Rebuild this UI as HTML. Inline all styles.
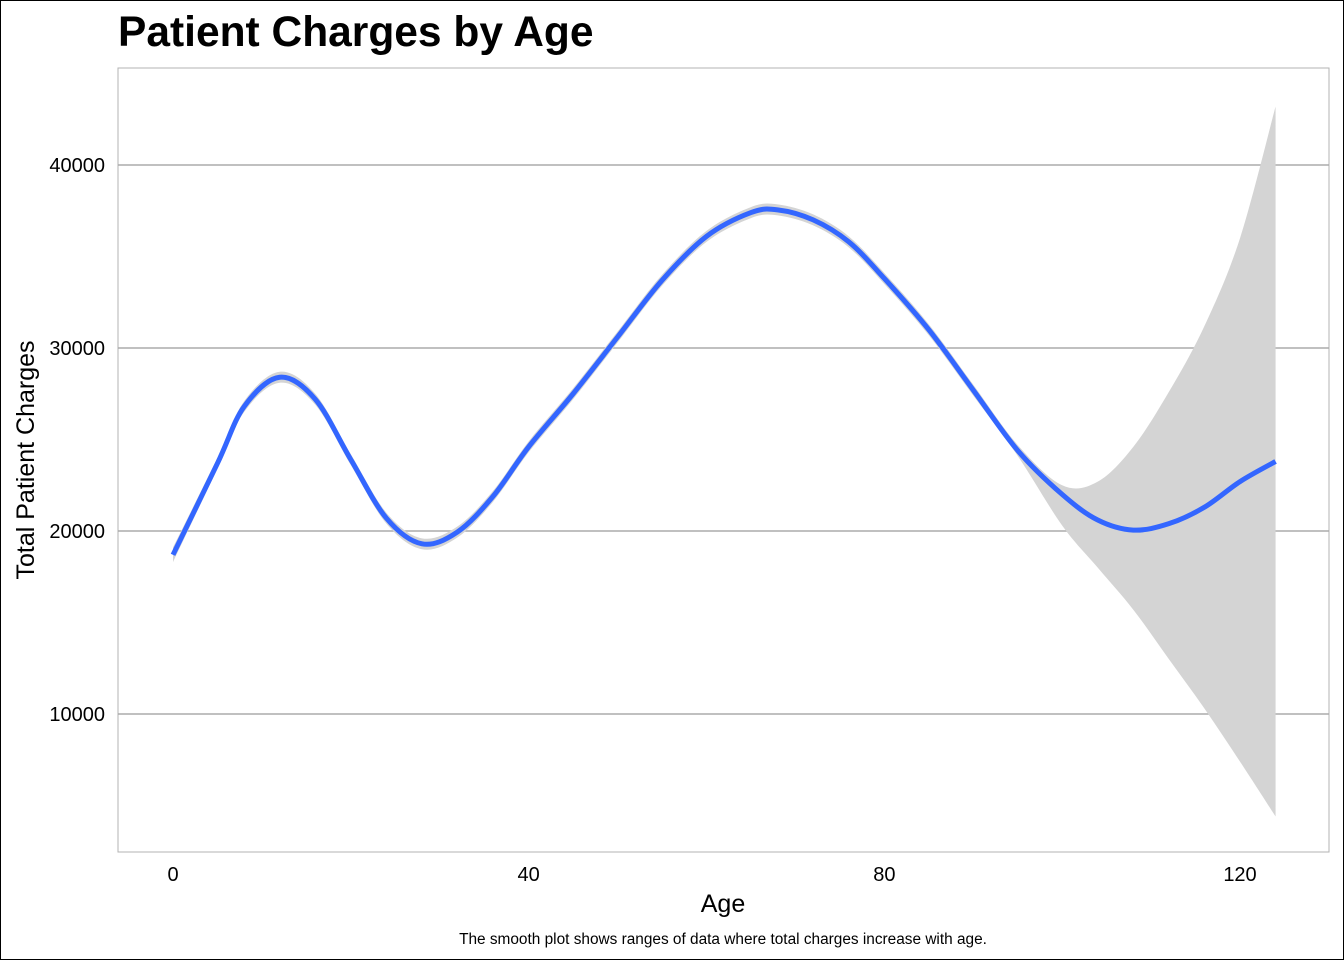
<!DOCTYPE html>
<html><head><meta charset="utf-8"><style>
body{margin:0;background:#fff;}
svg{display:block;font-family:"Liberation Sans",Arial,sans-serif;}
</style></head><body>
<svg id="chart" width="1344" height="960">
<rect x="0.5" y="0.5" width="1343" height="959" fill="#fff" stroke="#000"/>
<text x="118" y="46" font-size="42.5" font-weight="bold" fill="#000">Patient Charges by Age</text>
<rect x="118" y="68" width="1211" height="784" fill="#fff" stroke="#b3b3b3"/>
<g id="grid"></g>
<path id="ribbon" fill="#d4d4d4"/>
<path id="line" fill="none" stroke="#3366ff" stroke-width="5"/>
<g id="axes"></g>
<text x="723" y="912" font-size="25" text-anchor="middle">Age</text>
<text transform="translate(34,460) rotate(-90)" font-size="25" text-anchor="middle">Total Patient Charges</text>
<text x="723" y="944" font-size="15.4" text-anchor="middle">The smooth plot shows ranges of data where total charges increase with age.</text>
</svg>
<script>
const ages=[0,5,8,12,16,20,24,28,32,36,40,45,50,55,60,65,68,72,76,80,85,90,95,100,104,108,112,116,120,124];
const fit=[18700,23700,26800,28400,27200,23900,20700,19300,19950,21900,24600,27500,30600,33700,36100,37400,37550,37000,35800,33800,31000,27700,24400,22000,20600,20050,20400,21300,22700,23800];
const upper=[19100,24000,27100,28700,27500,24200,21000,19600,20250,22200,24900,27800,30900,34000,36400,37700,37850,37300,36100,34100,31300,28000,24700,22500,22700,24600,27600,31200,36000,43200];
const lower=[18300,23400,26500,28100,26900,23600,20400,19000,19650,21600,24300,27200,30300,33400,35800,37100,37250,36700,35500,33500,30700,27400,24100,20300,18000,15700,13000,10300,7400,4400];
const xTicks=[0,40,80,120];
const yTicks=[10000,20000,30000,40000];
const xs=a=>173+a*(1240-173)/120;
const ys=v=>531-(v-20000)*(531-165)/20000;
function spline(px,py){let d="";for(let i=0;i<px.length-1;i++){const x0=px[Math.max(i-1,0)],y0=py[Math.max(i-1,0)],x1=px[i],y1=py[i],x2=px[i+1],y2=py[i+1],x3=px[Math.min(i+2,px.length-1)],y3=py[Math.min(i+2,px.length-1)];
if(i===0)d+="M"+x1+","+y1;d+=" C"+(x1+(x2-x0)/6)+","+(y1+(y2-y0)/6)+" "+(x2-(x3-x1)/6)+","+(y2-(y3-y1)/6)+" "+x2+","+y2;}return d;}
const NS="http://www.w3.org/2000/svg";
const grid=document.getElementById('grid'),axes=document.getElementById('axes');
yTicks.forEach(v=>{const l=document.createElementNS(NS,'line');l.setAttribute('x1',118);l.setAttribute('x2',1329);l.setAttribute('y1',ys(v));l.setAttribute('y2',ys(v));l.setAttribute('stroke','#ababab');l.setAttribute('stroke-width','1.6');


grid.appendChild(l);
const t=document.createElementNS(NS,'text');t.setAttribute('x',105);t.setAttribute('y',ys(v)+7);t.setAttribute('text-anchor','end');t.setAttribute('font-size','20');t.textContent=v;


axes.appendChild(t);});
xTicks.forEach(v=>{const t=document.createElementNS(NS,'text');t.setAttribute('x',xs(v));t.setAttribute('y',881);t.setAttribute('text-anchor','middle');t.setAttribute('font-size','20');t.textContent=v;


axes.appendChild(t);});
const px=ages.map(xs);
const up=spline(px,upper.map(ys));
const lo=spline(px.slice().reverse(),lower.slice().reverse().map(ys));
document.getElementById('ribbon').setAttribute('d',up+" L"+px[px.length-1]+","+ys(lower[lower.length-1])+lo.replace(/^M[^ ]+/,"")+" Z");
document.getElementById('line').setAttribute('d',spline(px,fit.map(ys)));
</script>
</body></html>
